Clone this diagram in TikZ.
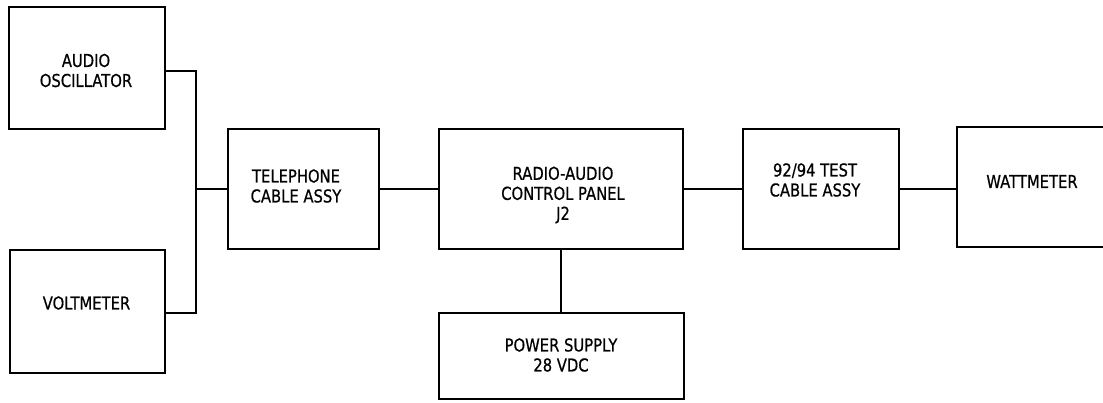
\documentclass[tikz,border=0pt]{standalone}
\usepackage{fontspec}
\setmainfont{DejaVu Sans}[FakeStretch=0.83,FakeBold=0.6]
\begin{document}
\begin{tikzpicture}[x=1pt,y=-1pt,
  box/.style={draw, rectangle, line width=2pt, inner sep=0pt},
  txt/.style={font=\fontsize{17.8}{20}\selectfont, align=center, inner sep=0pt},
  wire/.style={line width=2pt}]
\useasboundingbox (0,0) rectangle (1103,402);
\clip (0,0) rectangle (1103,402);
% boxes
\node[box, minimum width=156pt, minimum height=122pt] (osc) at (87,68) {};
\node[box, minimum width=155pt, minimum height=123pt] (volt) at (87.5,311.5) {};
\node[box, minimum width=151pt, minimum height=120pt] (tel) at (303.5,189) {};
\node[box, minimum width=244pt, minimum height=120pt] (radio) at (561,189) {};
\node[box, minimum width=245pt, minimum height=86pt] (power) at (561.5,356) {};
\node[box, minimum width=156pt, minimum height=120pt] (test) at (821,189) {};
\node[box, minimum width=168pt, minimum height=120pt] (watt) at (1041,187) {};
% texts
\node[txt] (osct) at (86,70.5) {AUDIO\\OSCILLATOR};
\node[txt] (voltt) at (86.5,303) {VOLTMETER};
\node[txt] (telt) at (296,186) {TELEPHONE\\CABLE ASSY};
\node[txt] (radiot) at (563,195) {RADIO-AUDIO\\CONTROL PANEL\\J2};
\node[txt] (powert) at (561,355) {POWER SUPPLY\\28 VDC};
\node[txt] (testt) at (815,180) {92/94 TEST\\CABLE ASSY};
\node[txt] (wattt) at (1032,181.5) {WATTMETER};
% connectors
\coordinate (bus) at (196,189);
\draw[wire] ([yshift=-3pt]osc.east) -| (bus) |- ([yshift=-1.5pt]volt.east);
\draw[wire] (bus) -- (bus -| tel.west);
\draw[wire] (tel.east) -- (tel.east -| radio.west);
\draw[wire] (radio.east) -- (radio.east -| test.west);
\draw[wire] (test.east) -- (test.east -| watt.west);
\draw[wire] (radio.south) -- (radio.south |- power.north);
\end{tikzpicture}
\end{document}
